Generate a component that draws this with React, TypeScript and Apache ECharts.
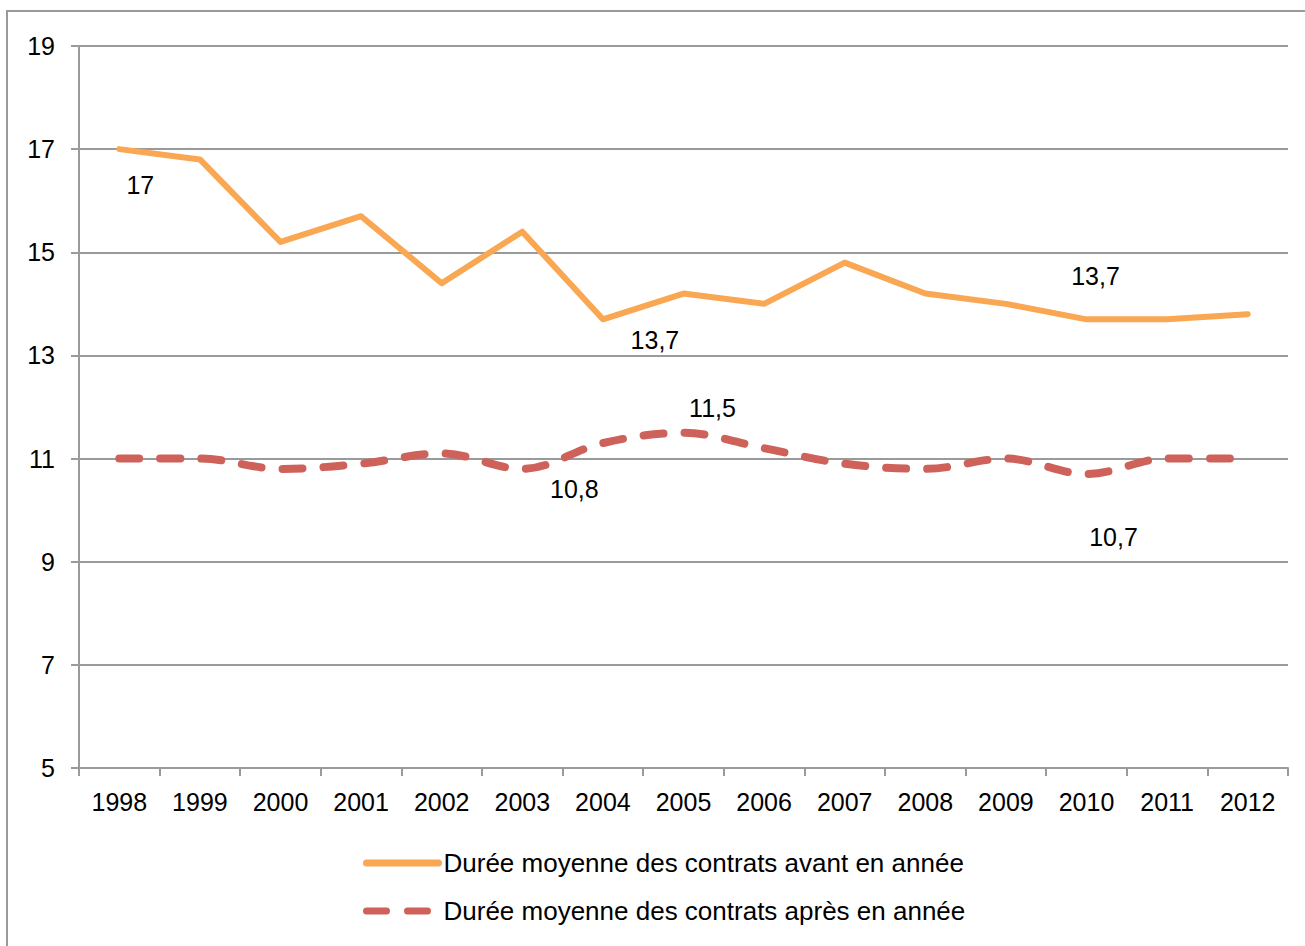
import React, { useEffect, useRef } from "react";
import * as echarts from "echarts";

const years = ["1998", "1999", "2000", "2001", "2002", "2003", "2004", "2005", "2006", "2007", "2008", "2009", "2010", "2011", "2012"];
const avant = [17, 16.8, 15.2, 15.7, 14.4, 15.4, 13.7, 14.2, 14.0, 14.8, 14.2, 14.0, 13.7, 13.7, 13.8];
const apres = [11, 11, 10.8, 10.9, 11.1, 10.8, 11.3, 11.5, 11.2, 10.9, 10.8, 11.0, 10.7, 11, 11];
const avantName = "Durée moyenne des contrats avant en année";
const apresName = "Durée moyenne des contrats après en année";
// indexes of labelled points
const avantLabelIdx = [0, 6, 12];
const apresLabelIdx = [5, 7, 12];

const labelOffsets: Record<string, [number, number]> = {
  "a0": [21, 36],
  "a6": [52, 21],
  "a12": [9, -43],
  "r5": [52, 20],
  "r7": [29, -25],
  "r12": [27, 63],
};

const fmt = (v: number) => String(v).replace(".", ",");
const FONT = "'Liberation Sans', Arial, sans-serif";

function buildData(vals: number[], idx: number[], prefix: string) {
  return vals.map((v, i) =>
    idx.includes(i)
      ? {
          value: v,
          label: {
            show: true,
            position: "inside",
            offset: labelOffsets[prefix + i],
            formatter: () => fmt(v),
            color: "#000",
            fontSize: 25,
            fontFamily: FONT,
          },
        }
      : v
  );
}

export default function App() {
  const ref = useRef<HTMLDivElement>(null);
  useEffect(() => {
    document.body.style.margin = "0";
    document.body.style.overflow = "hidden";
    const chart = echarts.init(ref.current!, null, { renderer: "svg" });
    const gray = "#9a9a9a";
    chart.setOption({
      animation: false,
      textStyle: { fontFamily: FONT },
      graphic: [
        {
          type: "rect",
          shape: { x: 7, y: 11, width: 1320, height: 960 },
          style: { fill: "none", stroke: gray, lineWidth: 2 },
          silent: true,
        },
      ],
      grid: { left: 79, top: 46, width: 1209, height: 722, containLabel: false },
      legend: {
        orient: "vertical",
        left: 358,
        top: 845,
        itemWidth: 72,
        itemHeight: 12,
        itemGap: 22,
        itemStyle: { opacity: 0 },
        lineStyle: { width: 7, cap: "round" },
        textStyle: { fontSize: 26, color: "#000", fontFamily: FONT },
        data: [avantName, apresName],
      },
      xAxis: {
        type: "category",
        data: years,
        boundaryGap: true,
        axisLine: { lineStyle: { color: gray, width: 2 } },
        axisTick: { show: true, length: 8, lineStyle: { color: gray, width: 2 } },
        axisLabel: { color: "#000", fontSize: 25, margin: 21, fontFamily: FONT },
      },
      yAxis: {
        type: "value",
        min: 5,
        max: 19,
        interval: 2,
        axisLine: { show: true, lineStyle: { color: gray, width: 2 } },
        axisTick: { show: true, length: 8, lineStyle: { color: gray, width: 2 } },
        axisLabel: { color: "#000", fontSize: 25, margin: 24, fontFamily: FONT },
        splitLine: { lineStyle: { color: gray, width: 2 } },
      },
      series: [
        {
          name: avantName,
          type: "line",
          data: buildData(avant, avantLabelIdx, "a"),
          symbol: "circle",
          symbolSize: 0.1,
          itemStyle: { color: "#F9A752" },
          lineStyle: { color: "#F9A752", width: 6, cap: "round", join: "round" },
        },
        {
          name: apresName,
          type: "line",
          smooth: 0.35,
          data: buildData(apres, apresLabelIdx, "r"),
          symbol: "circle",
          symbolSize: 0.1,
          itemStyle: { color: "#CE615A" },
          lineStyle: { color: "#CE615A", width: 8, type: [20, 21], cap: "round", join: "round" },
        },
      ],
    });
    return () => chart.dispose();
  }, []);
  return <div ref={ref} style={{ width: 1305, height: 946 }} />;
}
